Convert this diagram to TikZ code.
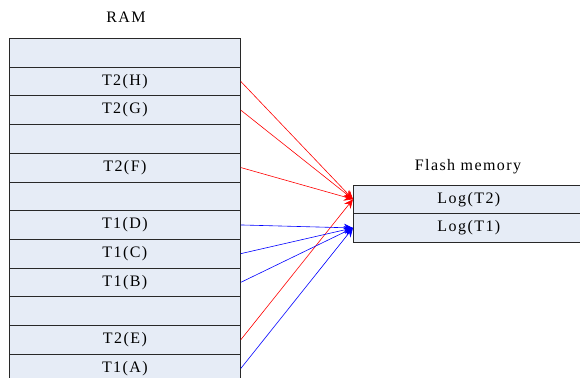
\documentclass[tikz,border=0pt]{standalone}
\usepackage{fontspec}
\setmainfont{Liberation Serif}[LetterSpace=9]
\usetikzlibrary{arrows.meta}
\definecolor{cellfill}{RGB}{230,236,246}
\definecolor{celldraw}{RGB}{40,40,40}
\begin{document}
\begin{tikzpicture}[x=1pt,y=-1pt,
  cell/.style={draw=celldraw,fill=cellfill,line width=0.8pt,minimum width=231pt,minimum height=28.7pt,inner sep=0pt,font=\fontsize{16}{18}\selectfont,anchor=north west},
  lbl/.style={font=\fontsize{16}{18}\selectfont},
  redarr/.style={draw=red,line width=0.6pt,-{Stealth[length=9pt,width=8pt]}},
  bluearr/.style={draw=blue,line width=0.6pt,-{Stealth[length=9pt,width=8pt]}}]
\useasboundingbox (0,0) rectangle (580,377);
\begin{scope}
\clip (0,0) rectangle (580,377);
\node[lbl] (ram) at (126,17) {RAM};
\node[cell] (r1) at (9,38) {};
\node[cell] (r2) at (9,66.7) {T2(H)};
\node[cell] (r3) at (9,95.4) {T2(G)};
\node[cell] (r4) at (9,124.1) {};
\node[cell] (r5) at (9,152.8) {T2(F)};
\node[cell] (r6) at (9,181.5) {};
\node[cell] (r7) at (9,210.2) {T1(D)};
\node[cell] (r8) at (9,238.9) {T1(C)};
\node[cell] (r9) at (9,267.6) {T1(B)};
\node[cell] (r10) at (9,296.3) {};
\node[cell] (r11) at (9,325) {T2(E)};
\node[cell] (r12) at (9,353.7) {T1(A)};
\node[lbl] (flash) at (468,167) {Flash memory};
\node[cell] (f1) at (353,184.5) {Log(T2)};
\node[cell] (f2) at (353,213.2) {Log(T1)};
\draw[redarr] (r2.east) -- (f1.west);
\draw[redarr] (r3.east) -- (f1.west);
\draw[redarr] (r5.east) -- (f1.west);
\draw[redarr] (r11.east) -- (f1.west);
\draw[bluearr] (r7.east) -- (f2.west);
\draw[bluearr] (r8.east) -- (f2.west);
\draw[bluearr] (r9.east) -- (f2.west);
\draw[bluearr] (r12.east) -- (f2.west);
\end{scope}
\end{tikzpicture}
\end{document}
